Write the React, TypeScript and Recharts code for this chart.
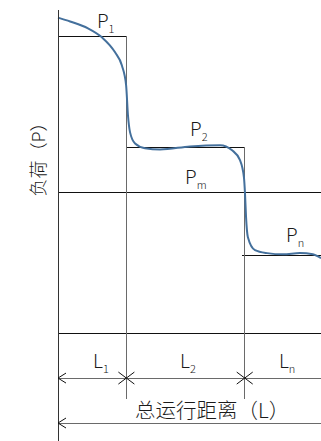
import {
  ComposedChart,
  Line,
  XAxis,
  YAxis,
  ReferenceLine,
  ReferenceDot,
} from "recharts";

// distance along the run (0 - 100) and load
const curveDistance = [
  0, 4.6, 11.4, 16.7, 21.7, 24.3, 25.9, 26.6, 27.4, 29.3, 33.1, 38.8, 50.2,
  61.6, 66.2, 69.2, 70.7, 71.1, 71.5, 72.2, 74.9, 79.5, 85.6, 92, 96.9, 100,
];
const curveLoad = [
  105.3, 104, 101.7, 98.7, 93.7, 89.3, 82.7, 72.7, 67, 63.3, 61.7, 61.3, 62.3,
  62.7, 61, 57.7, 52, 46.7, 38.7, 32, 27.7, 26.7, 26.3, 26.7, 26.3, 25,
];

// segment boundaries and step loads
const segmentEnds = [26, 71, 100];
const stepLoads = [99, 62, 26];
const meanLoad = 47;
const stepNames = ["1", "2", "n"];

const yTitle = "负荷（P）";
const xTitle = "总运行距离（L）";

const data = curveDistance.map((d, i) => ({ d, p: curveLoad[i] }));

const FONT = "'Noto Sans CJK SC', 'Noto Sans', sans-serif";
const LINE = "#111";
const GREY = "#6a6a6a";
const DIM_Y = -15;
const TOTAL_Y = -30;
const DROP_Y = -22;

const crisp = { shapeRendering: "crispEdges" } as any;

const arrowLeft = ({ cx, cy }: any) => (
  <path
    d={`M${cx + 8},${cy - 5} L${cx},${cy} L${cx + 8},${cy + 5}`}
    fill="none"
    stroke={LINE}
    strokeWidth={1}
  />
);

const arrowCross = ({ cx, cy }: any) => (
  <path
    d={`M${cx - 8},${cy - 6} L${cx + 8},${cy + 6} M${cx - 8},${cy + 6} L${cx + 8},${cy - 6}`}
    fill="none"
    stroke={LINE}
    strokeWidth={1}
  />
);

const subLabel =
  (main: string, sub: string) =>
  ({ cx, cy }: any) => (
    <text x={cx} y={cy} fontFamily={FONT} fontWeight={300} fontSize={19} fill="#1a1a1a">
      {main}
      <tspan dy={5} fontSize={11}>
        {sub}
      </tspan>
    </text>
  );

const plainLabel = (txt: string) => ({ cx, cy }: any) => (
  <text x={cx} y={cy} fontFamily={FONT} fontWeight={300} fontSize={20.5} fill="#1a1a1a">
    {txt}
  </text>
);

export default function App() {
  const starts = [0, segmentEnds[0], segmentEnds[1]];
  return (
    <div style={{ position: "absolute", left: 0, top: 0, background: "#fff" }}>
      <ComposedChart
        width={321}
        height={441}
        data={data}
        margin={{ top: 9.5, right: 0, bottom: 0, left: 0 }}
      >
        <XAxis dataKey="d" type="number" domain={[0, 100]} hide />
        <YAxis
          type="number"
          domain={[-36, 108]}
          width={58}
          tick={false}
          tickLine={false}
          axisLine={{ stroke: "#333", strokeWidth: 1, ...crisp }}
          label={{
            content: ({ viewBox }: any) => (
              <text
                x={viewBox.x + viewBox.width - 21}
                y={155}
                transform={`rotate(-90, ${viewBox.x + viewBox.width - 21}, 155)`}
                textAnchor="middle"
                dominantBaseline="central"
                fontFamily={FONT}
                fontWeight={300}
                fontSize={18}
                fill="#1a1a1a"
              >
                {yTitle}
              </text>
            ),
          }}
        />

        {/* baseline and mean load */}
        <ReferenceLine y={0} stroke={LINE} {...crisp} />
        <ReferenceLine y={meanLoad} stroke={LINE} {...crisp} />

        {/* step levels */}
        <ReferenceLine
          segment={[
            { x: starts[0], y: stepLoads[0] },
            { x: segmentEnds[0], y: stepLoads[0] },
          ]}
          stroke={LINE}
          {...crisp}
        />
        <ReferenceLine
          segment={[
            { x: starts[1], y: stepLoads[1] },
            { x: segmentEnds[1], y: stepLoads[1] },
          ]}
          stroke={LINE}
          {...crisp}
        />
        <ReferenceLine
          segment={[
            { x: starts[2] - 1, y: stepLoads[2] },
            { x: segmentEnds[2], y: stepLoads[2] },
          ]}
          stroke={LINE}
          {...crisp}
        />

        {/* segment boundaries */}
        <ReferenceLine
          segment={[
            { x: segmentEnds[0], y: stepLoads[0] },
            { x: segmentEnds[0], y: DROP_Y },
          ]}
          stroke={GREY}
          {...crisp}
        />
        <ReferenceLine
          segment={[
            { x: segmentEnds[1], y: stepLoads[1] },
            { x: segmentEnds[1], y: DROP_Y },
          ]}
          stroke={GREY}
          {...crisp}
        />

        {/* dimension lines */}
        <ReferenceLine
          segment={[
            { x: 0, y: DIM_Y },
            { x: 100, y: DIM_Y },
          ]}
          stroke={GREY}
          {...crisp}
        />
        <ReferenceLine
          segment={[
            { x: 0, y: TOTAL_Y },
            { x: 100, y: TOTAL_Y },
          ]}
          stroke={GREY}
          {...crisp}
        />
        <ReferenceDot x={0} y={DIM_Y} r={0} shape={arrowLeft} />
        <ReferenceDot x={0} y={TOTAL_Y} r={0} shape={arrowLeft} />
        <ReferenceDot x={segmentEnds[0]} y={DIM_Y} r={0} shape={arrowCross} />
        <ReferenceDot x={segmentEnds[1]} y={DIM_Y} r={0} shape={arrowCross} />

        <Line
          dataKey="p"
          type="monotone"
          stroke="#44709c"
          strokeWidth={2}
          dot={false}
          isAnimationActive={false}
        />

        {/* labels */}
        <ReferenceDot x={14.8} y={101.7} r={0} shape={subLabel("P", stepNames[0])} />
        <ReferenceDot x={50.2} y={65.7} r={0} shape={subLabel("P", stepNames[1])} />
        <ReferenceDot x={48.3} y={49.7} r={0} shape={subLabel("P", "m")} />
        <ReferenceDot x={86.7} y={30.3} r={0} shape={subLabel("P", stepNames[2])} />
        <ReferenceDot x={13.3} y={-11.7} r={0} shape={subLabel("L", stepNames[0])} />
        <ReferenceDot x={46.4} y={-11.7} r={0} shape={subLabel("L", stepNames[1])} />
        <ReferenceDot x={84} y={-11.7} r={0} shape={subLabel("L", stepNames[2])} />
        <ReferenceDot x={29.3} y={-28.3} r={0} shape={plainLabel(xTitle)} />
      </ComposedChart>
    </div>
  );
}
